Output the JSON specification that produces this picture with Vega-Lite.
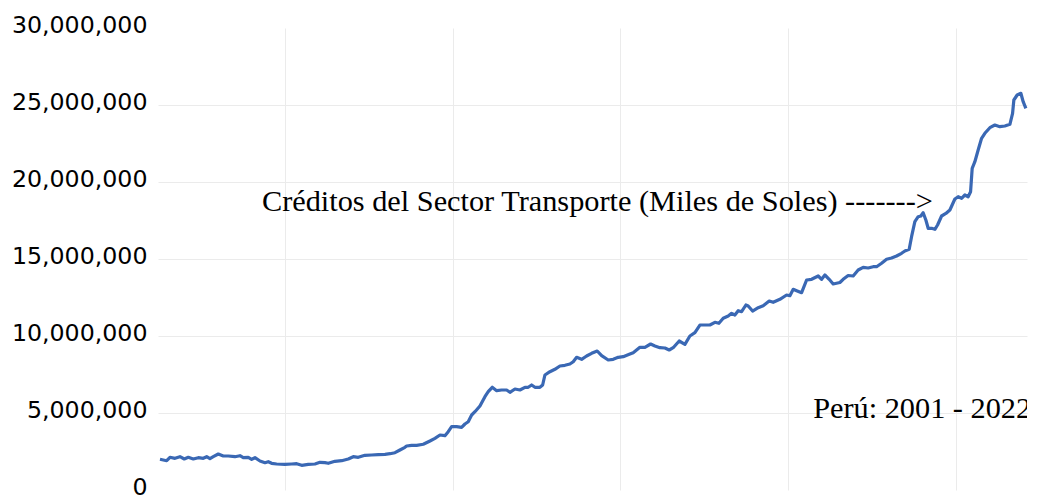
{
  "$schema": "https://vega.github.io/schema/vega-lite/v6.json",
  "autosize": {"type": "none"},
  "padding": {"left": 158, "top": 28, "right": 11, "bottom": 6},
  "width": 869,
  "height": 462,
  "background": "white",
  "config": {"view": {"stroke": null}},
  "datasets": {
    "credito": [
      {"t": 12.74, "v": 1994000}, {"t": 14.74, "v": 1903000}, {"t": 15.72, "v": 2123000}, {"t": 17.21, "v": 2058000},
      {"t": 18.70, "v": 2162000}, {"t": 19.98, "v": 2013000}, {"t": 21.18, "v": 2123000}, {"t": 22.67, "v": 2013000},
      {"t": 24.16, "v": 2097000}, {"t": 25.65, "v": 2058000}, {"t": 26.66, "v": 2162000}, {"t": 27.64, "v": 2032000},
      {"t": 28.63, "v": 2162000}, {"t": 30.12, "v": 2338000}, {"t": 31.61, "v": 2208000}, {"t": 33.10, "v": 2208000},
      {"t": 35.09, "v": 2162000}, {"t": 36.58, "v": 2227000}, {"t": 37.57, "v": 2097000}, {"t": 39.06, "v": 2123000},
      {"t": 40.07, "v": 1994000}, {"t": 41.06, "v": 2097000}, {"t": 42.55, "v": 1883000}, {"t": 44.04, "v": 1773000},
      {"t": 45.02, "v": 1838000}, {"t": 46.03, "v": 1734000}, {"t": 47.52, "v": 1688000}, {"t": 50.00, "v": 1669000},
      {"t": 52.00, "v": 1688000}, {"t": 53.49, "v": 1708000}, {"t": 54.98, "v": 1604000}, {"t": 56.94, "v": 1669000},
      {"t": 58.94, "v": 1688000}, {"t": 60.43, "v": 1799000}, {"t": 61.92, "v": 1773000}, {"t": 62.91, "v": 1734000},
      {"t": 64.90, "v": 1864000}, {"t": 66.90, "v": 1903000}, {"t": 68.87, "v": 2013000}, {"t": 70.36, "v": 2162000},
      {"t": 71.85, "v": 2123000}, {"t": 73.85, "v": 2253000}, {"t": 75.84, "v": 2273000}, {"t": 77.81, "v": 2292000},
      {"t": 79.81, "v": 2318000}, {"t": 81.30, "v": 2357000}, {"t": 82.79, "v": 2422000}, {"t": 84.27, "v": 2597000},
      {"t": 85.76, "v": 2773000}, {"t": 86.27, "v": 2857000}, {"t": 87.76, "v": 2903000}, {"t": 89.25, "v": 2903000},
      {"t": 91.22, "v": 2968000}, {"t": 93.22, "v": 3182000}, {"t": 94.71, "v": 3357000}, {"t": 96.20, "v": 3571000},
      {"t": 97.69, "v": 3526000}, {"t": 98.67, "v": 3786000}, {"t": 99.68, "v": 4110000}, {"t": 101.17, "v": 4110000},
      {"t": 102.66, "v": 4071000}, {"t": 103.65, "v": 4286000}, {"t": 104.63, "v": 4435000}, {"t": 105.65, "v": 4870000},
      {"t": 106.63, "v": 5084000}, {"t": 108.12, "v": 5455000}, {"t": 109.61, "v": 6058000}, {"t": 110.59, "v": 6383000},
      {"t": 111.79, "v": 6669000}, {"t": 113.10, "v": 6448000}, {"t": 114.59, "v": 6494000}, {"t": 116.08, "v": 6494000},
      {"t": 117.06, "v": 6344000}, {"t": 118.55, "v": 6558000}, {"t": 120.04, "v": 6494000}, {"t": 121.53, "v": 6669000},
      {"t": 122.52, "v": 6669000}, {"t": 123.53, "v": 6818000}, {"t": 124.51, "v": 6669000}, {"t": 126.00, "v": 6669000},
      {"t": 126.81, "v": 6818000}, {"t": 127.49, "v": 7468000}, {"t": 128.98, "v": 7682000}, {"t": 130.47, "v": 7838000},
      {"t": 131.96, "v": 8052000}, {"t": 133.45, "v": 8097000}, {"t": 134.94, "v": 8182000}, {"t": 135.93, "v": 8331000},
      {"t": 136.94, "v": 8617000}, {"t": 138.43, "v": 8487000}, {"t": 139.92, "v": 8701000}, {"t": 141.41, "v": 8877000},
      {"t": 143.08, "v": 9026000}, {"t": 144.40, "v": 8721000}, {"t": 146.36, "v": 8442000}, {"t": 147.85, "v": 8487000},
      {"t": 149.34, "v": 8617000}, {"t": 150.83, "v": 8656000}, {"t": 152.83, "v": 8831000}, {"t": 153.81, "v": 8916000},
      {"t": 155.81, "v": 9266000}, {"t": 157.30, "v": 9266000}, {"t": 159.00, "v": 9481000}, {"t": 160.28, "v": 9351000},
      {"t": 161.77, "v": 9240000}, {"t": 163.26, "v": 9221000}, {"t": 164.54, "v": 9091000}, {"t": 165.73, "v": 9240000},
      {"t": 167.52, "v": 9675000}, {"t": 169.22, "v": 9461000}, {"t": 170.71, "v": 10000000}, {"t": 172.20, "v": 10214000},
      {"t": 173.69, "v": 10714000}, {"t": 175.18, "v": 10714000}, {"t": 176.67, "v": 10714000}, {"t": 178.16, "v": 10890000},
      {"t": 179.36, "v": 10825000}, {"t": 180.64, "v": 11149000}, {"t": 182.13, "v": 11299000}, {"t": 183.14, "v": 11474000},
      {"t": 184.12, "v": 11364000}, {"t": 185.11, "v": 11643000}, {"t": 186.12, "v": 11578000}, {"t": 187.40, "v": 12013000},
      {"t": 188.09, "v": 11948000}, {"t": 189.40, "v": 11623000}, {"t": 191.07, "v": 11838000}, {"t": 192.56, "v": 11968000},
      {"t": 194.35, "v": 12273000}, {"t": 195.54, "v": 12188000}, {"t": 197.54, "v": 12383000}, {"t": 199.54, "v": 12662000},
      {"t": 200.52, "v": 12617000}, {"t": 201.51, "v": 13032000}, {"t": 202.52, "v": 12942000}, {"t": 204.01, "v": 12812000},
      {"t": 205.50, "v": 13636000}, {"t": 206.99, "v": 13682000}, {"t": 208.96, "v": 13896000}, {"t": 209.97, "v": 13682000},
      {"t": 210.95, "v": 13961000}, {"t": 212.23, "v": 13682000}, {"t": 213.42, "v": 13377000}, {"t": 215.42, "v": 13474000},
      {"t": 216.40, "v": 13682000}, {"t": 217.89, "v": 13929000}, {"t": 219.38, "v": 13896000}, {"t": 220.87, "v": 14286000},
      {"t": 222.36, "v": 14461000}, {"t": 223.85, "v": 14416000}, {"t": 225.35, "v": 14500000}, {"t": 226.36, "v": 14500000},
      {"t": 227.85, "v": 14721000}, {"t": 229.34, "v": 14981000}, {"t": 230.83, "v": 15065000}, {"t": 232.32, "v": 15195000},
      {"t": 233.81, "v": 15370000}, {"t": 234.79, "v": 15519000}, {"t": 236.08, "v": 15630000}, {"t": 236.79, "v": 16448000},
      {"t": 237.77, "v": 17422000}, {"t": 238.76, "v": 17747000}, {"t": 239.56, "v": 17792000}, {"t": 240.25, "v": 18006000},
      {"t": 241.05, "v": 17532000}, {"t": 241.74, "v": 16994000}, {"t": 242.75, "v": 16994000}, {"t": 243.74, "v": 16929000},
      {"t": 244.54, "v": 17208000}, {"t": 245.74, "v": 17792000}, {"t": 247.02, "v": 17955000}, {"t": 248.21, "v": 18182000},
      {"t": 249.70, "v": 18896000}, {"t": 250.68, "v": 19045000}, {"t": 251.70, "v": 18942000}, {"t": 252.68, "v": 19156000},
      {"t": 253.66, "v": 19045000}, {"t": 254.38, "v": 19370000}, {"t": 254.86, "v": 20890000}, {"t": 255.66, "v": 21318000},
      {"t": 256.64, "v": 22078000}, {"t": 257.66, "v": 22838000}, {"t": 258.64, "v": 23162000}, {"t": 260.13, "v": 23526000},
      {"t": 261.62, "v": 23701000}, {"t": 263.11, "v": 23591000}, {"t": 264.60, "v": 23636000}, {"t": 266.10, "v": 23747000},
      {"t": 266.90, "v": 24461000}, {"t": 267.28, "v": 25325000}, {"t": 268.27, "v": 25649000}, {"t": 269.37, "v": 25760000},
      {"t": 270.06, "v": 25214000}, {"t": 270.86, "v": 24786000}
    ],
    "notas": [
      {"t": 43.14, "v": 18117000, "texto": "Créditos del Sector Transporte (Miles de Soles) ------->"},
      {"t": 207.46, "v": 4656000, "texto": "Perú: 2001 - 2022"}
    ]
  },
  "layer": [
    {
      "data": {"name": "credito"},
      "mark": {"type": "line", "color": "#3a68b4", "strokeWidth": 3.2, "strokeJoin": "round"},
      "encoding": {
        "x": {
          "field": "t", "type": "quantitative",
          "scale": {"domain": [12.15, 271.2], "nice": false, "zero": false},
          "axis": {
            "values": [50, 100, 150, 200, 250],
            "labels": false, "ticks": false, "domain": false, "title": null,
            "grid": true, "gridColor": "#ebebeb", "gridWidth": 1
          }
        },
        "y": {
          "field": "v", "type": "quantitative",
          "scale": {"domain": [0, 30000000], "nice": false},
          "axis": {
            "values": [0, 5000000, 10000000, 15000000, 20000000, 25000000, 30000000],
            "format": ",d",
            "ticks": false, "domain": false, "title": null,
            "labelFont": "DejaVu Sans", "labelFontSize": 23.7, "labelColor": "#000000",
            "labelPadding": 11, "labelOffset": -3,
            "grid": true,
            "gridColor": {"condition": {"test": "datum.value == 0 || datum.value == 30000000", "value": "transparent"}, "value": "#ebebeb"},
            "gridWidth": 1
          }
        }
      }
    },
    {
      "data": {"name": "notas"},
      "mark": {"type": "text", "align": "left", "baseline": "alphabetic", "font": "Liberation Serif", "fontSize": 30.3, "color": "#000000", "clip": true},
      "encoding": {
        "x": {"field": "t", "type": "quantitative"},
        "y": {"field": "v", "type": "quantitative"},
        "text": {"field": "texto"}
      }
    }
  ]
}
